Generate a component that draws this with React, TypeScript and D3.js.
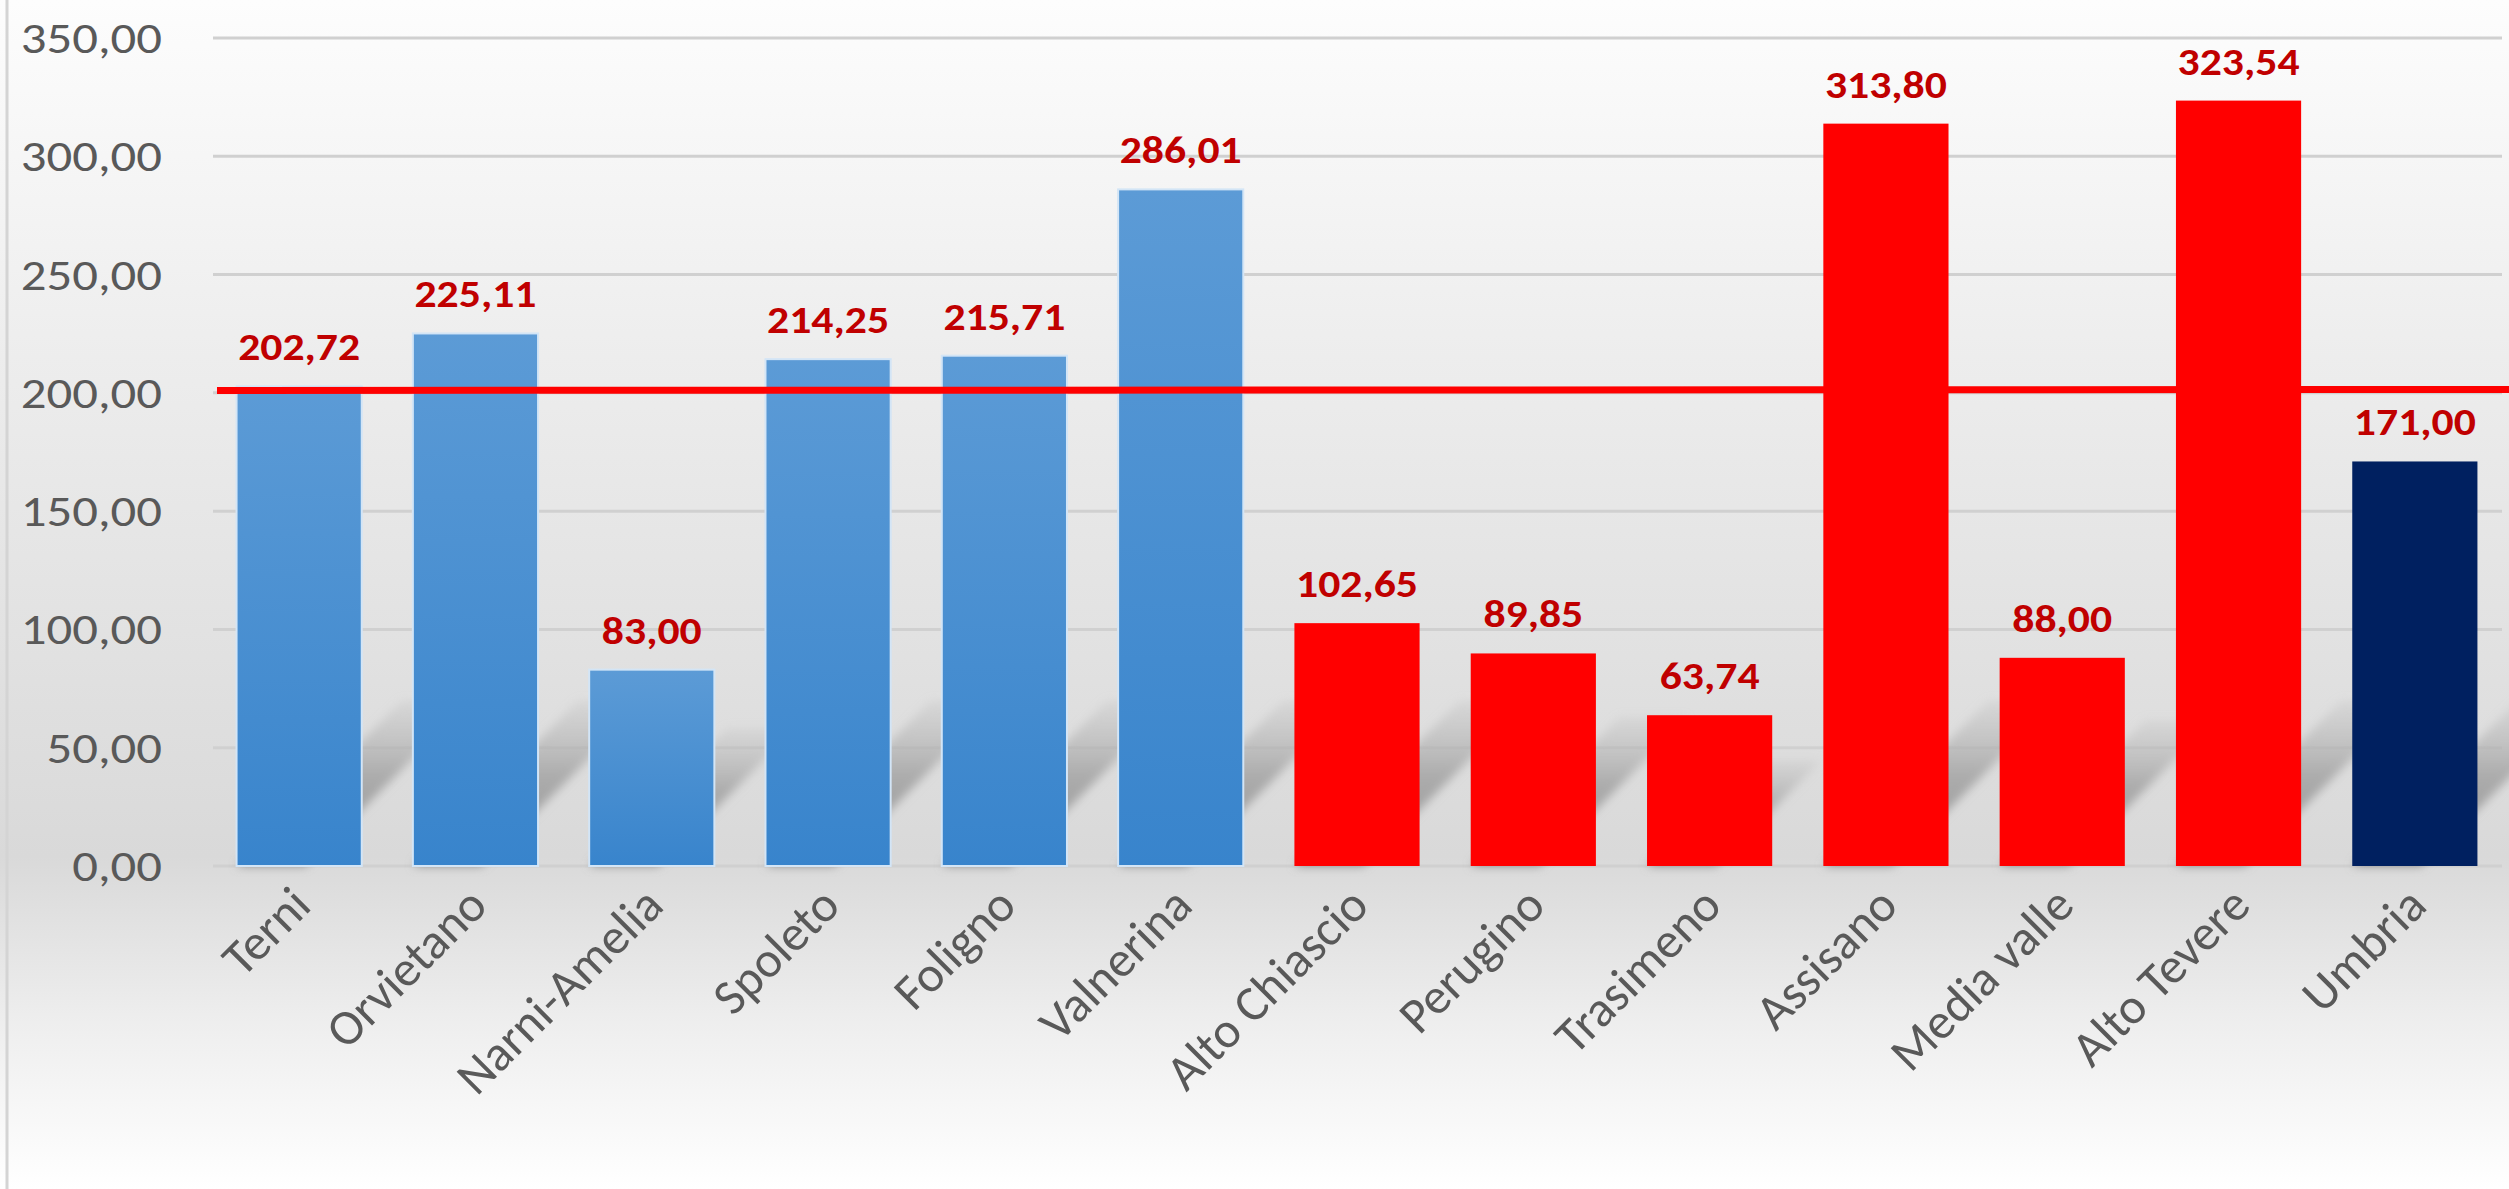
import React from 'react';
import * as d3 from 'd3';

// chart data
const categories = [
  'Terni', 'Orvietano', 'Narni-Amelia', 'Spoleto', 'Foligno', 'Valnerina',
  'Alto Chiascio', 'Perugino', 'Trasimeno', 'Assisano', 'Media valle', 'Alto Tevere', 'Umbria',
];
const values = [202.72, 225.11, 83.0, 214.25, 215.71, 286.01, 102.65, 89.85, 63.74, 313.8, 88.0, 323.54, 171.0];
const groups = ['terni', 'terni', 'terni', 'terni', 'terni', 'terni',
  'perugia', 'perugia', 'perugia', 'perugia', 'perugia', 'perugia', 'region'];
const yTicks = [0, 50, 100, 150, 200, 250, 300, 350];
const referenceValue = 201;

const W = 2509;
const H = 1189;
const FONT = "Calibri, Carlito, 'Open Sans', sans-serif";

const it = d3.formatLocale({ decimal: ',', thousands: '.', grouping: [3], currency: ['€', ''] });
const fmt = it.format('.2f');

const fillFor = (g: string) => {
  if (g === 'terni') return 'url(#blueGrad)';
  if (g === 'perugia') return '#ff0000';
  return '#002060';
};

const App: React.FC = () => {
  const x = d3.scaleBand<string>()
    .domain(categories)
    .range([211, 2503])
    .paddingInner(0.29)
    .paddingOuter(0.145);

  const y = d3.scaleLinear().domain([0, 350]).range([866, 38]);
  const y0 = y(0);
  const bw = x.bandwidth();

  return (
    <div style={{ position: 'absolute', top: 0, left: 0 }}>
      <svg width={W} height={H} style={{ display: 'block' }}>
        <defs>
          <linearGradient id="bgGrad" x1="0" y1="0" x2="0" y2="1">
            <stop offset="0" stopColor="#fdfdfd" />
            <stop offset="0.3" stopColor="#ededed" />
            <stop offset="0.72" stopColor="#d9d9d9" />
            <stop offset="0.86" stopColor="#eeeeee" />
            <stop offset="1" stopColor="#ffffff" />
          </linearGradient>
          <linearGradient id="blueGrad" x1="0" y1="0" x2="0" y2="1">
            <stop offset="0" stopColor="#5c9bd6" />
            <stop offset="1" stopColor="#3884cc" />
          </linearGradient>
          <linearGradient id="shadowGrad" x1="0" y1="1" x2="0" y2="0">
            <stop offset="0" stopColor="#8f8f8f" stopOpacity="1" />
            <stop offset="0.55" stopColor="#a4a4a4" stopOpacity="0.85" />
            <stop offset="1" stopColor="#bdbdbd" stopOpacity="0.25" />
          </linearGradient>
          <filter id="blur" x="-20%" y="-20%" width="140%" height="140%">
            <feGaussianBlur stdDeviation="5" />
          </filter>
        </defs>

        <rect x={0} y={0} width={W} height={H} fill="url(#bgGrad)" />
        <line x1={7} x2={7} y1={0} y2={H} stroke="#d4d4d4" strokeWidth={3} />

        {/* gridlines */}
        {yTicks.map(t => (
          <line key={'g' + t} x1={213} x2={2502} y1={y(t)} y2={y(t)}
            stroke="#d0d0d0" strokeWidth={3} />
        ))}

        {/* y tick labels, slightly widened like the source */}
        {yTicks.map(t => (
          <text key={'t' + t} transform={`translate(162,${y(t)}) scale(1.18,1)`} dy="0.35em" textAnchor="end"
            fontFamily={FONT} fontSize={43} fill="#595959">{fmt(t)}</text>
        ))}

        {/* perspective shadows */}
        <g filter="url(#blur)">
          {categories.map((c, i) => {
            const x0 = x(c)!;
            const hb = y0 - y(values[i]);
            const hs = Math.min(hb * 0.7, 165);
            const ws = bw * 0.55;
            const pts = [
              [x0, y0], [x0 + ws, y0], [x0 + ws + hs, y0 - hs], [x0 + hs, y0 - hs],
            ].map(p => p.join(',')).join(' ');
            return <polygon key={'s' + c} points={pts} fill="url(#shadowGrad)" />;
          })}
        </g>

        {/* bars */}
        {categories.map((c, i) => (
          <rect key={'b' + c} x={x(c)} y={y(values[i])} width={bw} height={y0 - y(values[i])}
            fill={fillFor(groups[i])}
            stroke={groups[i] === 'terni' ? '#d3e5f6' : 'none'} strokeWidth={2} />
        ))}

        {/* reference line */}
        <line x1={217} x2={W} y1={y(referenceValue)} y2={y(referenceValue) - 1}
          stroke="#ff0000" strokeWidth={7} />

        {/* data labels */}
        {categories.map((c, i) => (
          <text key={'l' + c} transform={`translate(${x(c)! + bw / 2},${y(values[i]) - 26}) scale(1.15,1)`}
            textAnchor="middle"
            fontFamily={FONT} fontSize={38} fontWeight="bold" fill="#c00000">{fmt(values[i])}</text>
        ))}

        {/* category labels */}
        {categories.map(c => {
          const cx = x(c)! + bw / 2 + 14;
          const cy = y0 + 42;
          return (
            <text key={'c' + c} transform={`translate(${cx},${cy}) rotate(-45)`} textAnchor="end"
              fontFamily={FONT} fontSize={50} fill="#595959">{c}</text>
          );
        })}
      </svg>
    </div>
  );
};

export default App;
